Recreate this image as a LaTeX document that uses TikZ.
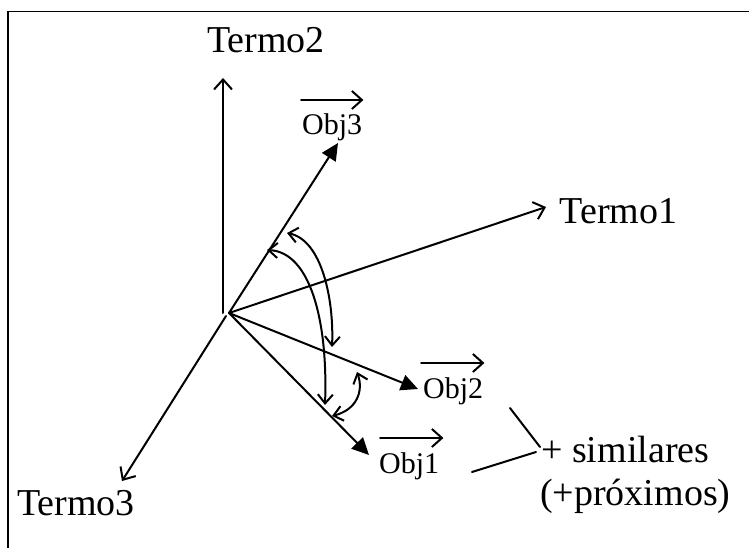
\documentclass[tikz,border=0pt]{standalone}
\usepackage{fontspec}
\setmainfont{Liberation Serif}
\usetikzlibrary{arrows.meta}
\tikzset{
  ln/.style={line width=2pt, line cap=round},
  axis/.style={ln, -{Straight Barb[length=10pt,width=18pt,line width=2pt]}},
  vec/.style={ln, -{Triangle[length=17pt,width=16pt]}},
  ang/.style={ln, {Straight Barb[length=9pt,width=15pt,line width=2pt]}-{Straight Barb[length=9pt,width=15pt,line width=2pt]}},
  big/.style={font=\fontsize{38}{44}\selectfont, inner sep=0pt},
  obj/.style={font=\fontsize{30}{34}\selectfont, inner sep=0pt, anchor=base west},
}
\begin{document}
\begin{tikzpicture}[x=1pt,y=-1pt]
\useasboundingbox (0,0) rectangle (749,548);
% frame (top and left edges)
\draw[line width=1.4pt] (8,548) -- (8,11.5) -- (749,11.5);

\coordinate (O) at (229,313);
\coordinate (Obot) at (223,313);
\coordinate (O3) at (226,316);
\coordinate (T2tip) at (223,78);
\coordinate (T1tip) at (546,207);
\coordinate (T3tip) at (122,481);
\coordinate (V3) at (338,143);
\coordinate (V2) at (418,389);
\coordinate (V1) at (369,455);

% axes
\draw[axis] (Obot) -- (T2tip);
\draw[axis] (O) -- (T1tip);
\draw[axis] (O3) -- (T3tip);
% object vectors
\draw[vec] (O) -- (V3);
\draw[vec] (O) -- (V2);
\draw[vec] (O) -- (V1);

% axis labels
\node[big] (t2) at (266,40) {Termo2};
\node[big] (t1) at (618.5,211.5) {Termo1};
\node[big] (t3) at (76,503.5) {Termo3};

% object labels
\node[obj] (o3) at (302,135) {Obj3};
\node[obj] (o2) at (423,398) {Obj2};
\node[obj] (o1) at (379,473) {Obj1};
\draw[axis, line width=1.8pt] ([xshift=-1pt,yshift=14pt]o3.north west) -- ([xshift=1pt,yshift=14pt]o3.north east);
\draw[axis, line width=1.8pt] ([xshift=-2pt,yshift=14pt]o2.north west) -- ([xshift=1pt,yshift=14pt]o2.north east);
\draw[axis, line width=1.8pt] ([xshift=1pt,yshift=14pt]o1.north west) -- ([xshift=4pt,yshift=14pt]o1.north east);

% angle arcs
\coordinate (a1s) at (287,233);
\coordinate (a1e) at (332,347);
\draw[ang] (a1s) .. controls (322,240) and (334,300) .. (a1e);
\coordinate (a2s) at (267,250);
\coordinate (a2e) at (325,405);
\draw[ang] (a2s) .. controls (310,252) and (328,320) .. (a2e);
\coordinate (a3s) at (357,372);
\coordinate (a3e) at (332,416);
\draw[ang] (a3s) .. controls (364,392) and (356,410) .. (a3e);

% similar bracket
\node[big, anchor=base west] (sim) at (541,462) {+ similares};
\node[big, anchor=base west] (prox) at (540,505) {(+próximos)};
\coordinate (b1) at (510,408);
\coordinate (b2) at (472,472);
\draw[ln] (b1) -- ([xshift=-1pt,yshift=2pt]sim.west);
\draw[ln] (b2) -- ([xshift=-5pt,yshift=-3pt]sim.west);
\end{tikzpicture}
\end{document}
